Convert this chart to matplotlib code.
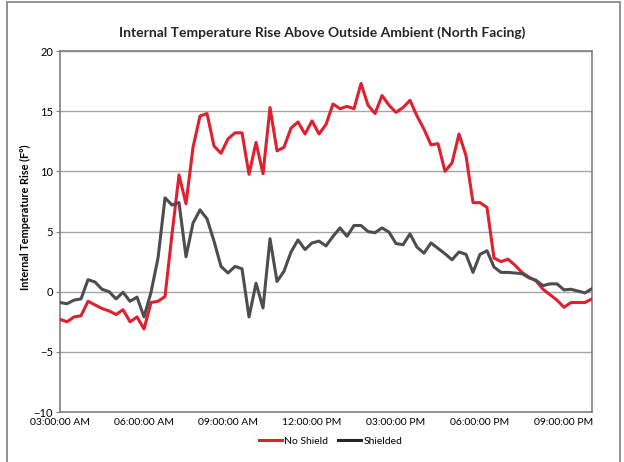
# Internal temperature rise chart (north facing)
import matplotlib
matplotlib.use('Agg')
import matplotlib.pyplot as plt
import matplotlib.transforms as mtransforms
from matplotlib.patches import Rectangle

# 15-minute readings from 03:00 AM to 10:00 PM
no_shield = [-2.3, -2.5, -2.1, -2.0, -0.8, -1.1, -1.4, -1.6, -1.9, -1.5,
             -2.5, -2.1, -3.1, -0.9, -0.8, -0.4, 4.8, 9.7, 7.3, 12.0,
             14.6, 14.8, 12.1, 11.5, 12.7, 13.2, 13.2, 9.75, 12.4, 9.8,
             15.3, 11.7, 12.0, 13.6, 14.1, 13.1, 14.2, 13.1, 13.9, 15.6,
             15.2, 15.4, 15.2, 17.3, 15.5, 14.8, 16.3, 15.5, 14.9, 15.3,
             15.9, 14.6, 13.5, 12.2, 12.3, 10.0, 10.7, 13.1, 11.3, 7.4,
             7.4, 7.0, 2.8, 2.5, 2.7, 2.2, 1.6, 1.2, 0.9, 0.2,
             -0.25, -0.7, -1.3, -0.9, -0.9, -0.9, -0.6]
shielded = [-0.9, -1.0, -0.7, -0.6, 1.0, 0.8, 0.2, 0.0, -0.6, -0.05,
            -0.8, -0.45, -2.1, -0.05, 2.8, 7.8, 7.2, 7.4, 2.9, 5.7,
            6.8, 6.05, 4.2, 2.1, 1.55, 2.1, 1.9, -2.1, 0.7, -1.35,
            4.4, 0.85, 1.7, 3.3, 4.3, 3.5, 4.05, 4.2, 3.8, 4.6,
            5.3, 4.6, 5.5, 5.5, 5.0, 4.9, 5.3, 4.95, 4.0, 3.9,
            4.8, 3.7, 3.2, 4.05, 3.6, 3.15, 2.65, 3.3, 3.1, 1.6,
            3.1, 3.4, 2.05, 1.6, 1.6, 1.55, 1.5, 1.15, 0.95, 0.5,
            0.65, 0.65, 0.15, 0.2, 0.05, -0.1, 0.25]
tick_labels = ["03:00:00 AM", "06:00:00 AM", "09:00:00 AM", "12:00:00 PM",
               "03:00:00 PM", "06:00:00 PM", "09:00:00 PM"]
y_ticks = [-10, -5, 0, 5, 10, 15, 20]

plt.rcParams['font.family'] = ['Lato', 'DejaVu Sans']

fig = plt.figure(figsize=(6.24, 4.62), dpi=100)
ax = fig.add_axes([0.0962, 0.1082, 0.8525, 0.7814])

x = list(range(len(no_shield)))
ax.plot(x, no_shield, color="#E0202E", linewidth=2.2, label="No Shield", zorder=3)
ax.plot(x, shielded, color="#4D4D4D", linewidth=2.2, label="Shielded", zorder=3)

ax.set_xlim(0, len(no_shield) - 1)
ax.set_ylim(-10, 20)
ax.set_yticks(y_ticks)
ax.set_xticks(range(0, 73, 12))
ax.set_xticklabels(tick_labels, fontsize=7.5)
# labels sit a little right of the tick positions in the original
shift = mtransforms.ScaledTranslation(5 / 100, 0, fig.dpi_scale_trans)
for lbl in ax.get_xticklabels():
    lbl.set_transform(lbl.get_transform() + shift)
ax.tick_params(axis='y', labelsize=8, length=3, color="#808080", pad=2)
ax.tick_params(axis='x', length=0, pad=4)
ax.yaxis.grid(True, color="#A6A6A6", linewidth=1)
ax.set_axisbelow(True)
for sp in ax.spines.values():
    sp.set_color("#808080")
    sp.set_linewidth(1.2)

ax.set_ylabel("Internal Temperature Rise (F°)", fontsize=7.8, fontweight='bold')
ax.yaxis.set_label_coords(-0.0545, 0.54)
fig.text(0.516, 0.93, "Internal Temperature Rise Above Outside Ambient (North Facing)",
         ha='center', va='center', fontsize=10, fontweight='bold', color="#262626")

leg = fig.legend(loc='center', bbox_to_anchor=(0.53, 0.045), ncol=2, frameon=False,
                 fontsize=7.5, handlelength=2.2, columnspacing=1.0, handletextpad=0.2)
leg.legend_handles[1].set_color("#262626")

# outer chart border
fig.patches.append(Rectangle((7 / 624, -0.05), 613 / 624, 1.05 - 2 / 462, transform=fig.transFigure,
                             fill=False, edgecolor="#7F7F7F", linewidth=1.2))

fig.savefig("out.png", dpi=100)
